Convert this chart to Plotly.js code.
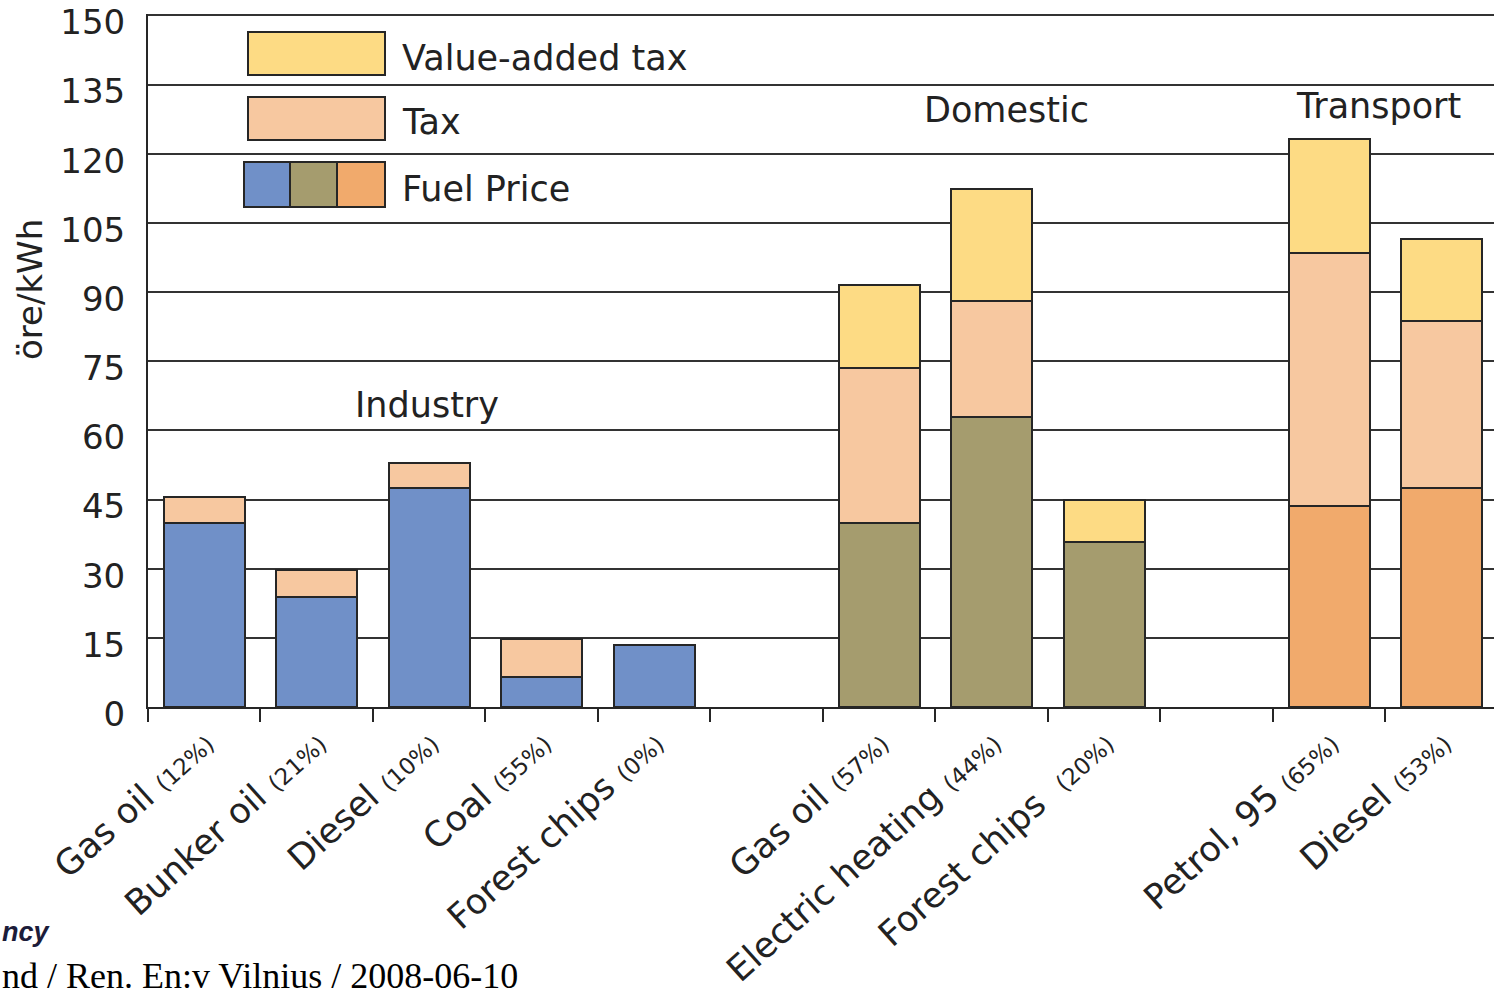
<!DOCTYPE html>
<html>
<head>
<meta charset="utf-8">
<script src="https://cdn.plot.ly/plotly-3.0.1.min.js"></script>
<style>html,body{margin:0;padding:0;background:#fff;}#chart{width:1494px;height:997px;}</style>
</head>
<body>
<div id="chart"></div>
<script>
// ---- data ----
const categories = ["Gas oil (12%)", "Bunker oil (21%)", "Diesel (10%)", "Coal (55%)", "Forest chips (0%)", " ",
                    "Gas oil (57%)", "Electric heating (44%)", "Forest chips (20%)", "  ", "Petrol, 95 (65%)", "Diesel (53%)"];
const labelNames = ["Gas oil", "Bunker oil", "Diesel", "Coal", "Forest chips", "",
                    "Gas oil", "Electric heating", "Forest chips ", "", "Petrol, 95", "Diesel"];
const labelShares = ["12%", "21%", "10%", "55%", "0%", "", "57%", "44%", "20%", "", "65%", "53%"];
const fuelPrice = [39.8, 23.9, 47.5, 6.6, 13.4, null, 40.0, 62.8, 35.7, null, 43.5, 47.6];
const tax       = [5.7, 5.8, 5.4, 8.2, null, null, 33.6, 25.2, null, null, 54.9, 36.2];
const vat       = [null, null, null, null, null, null, 18.0, 24.4, 9.1, null, 24.7, 17.6];
const sectors = ["Industry", "Industry", "Industry", "Industry", "Industry", "", "Domestic", "Domestic", "Domestic", "", "Transport", "Transport"];
const yTicks = [0, 15, 30, 45, 60, 75, 90, 105, 120, 135, 150];

// ---- styles ----
const sectorColor = {Industry: "#7090c8", Domestic: "#a59c6e", Transport: "#f1aa6c", "": "#ffffff"};
const taxColor = "#f7c8a0";
const vatColor = "#fddb84";
const edge = {color: "#262626", width: 2};
const FONT = "DejaVu Sans, Liberation Sans, Arial, sans-serif";

const tickText = labelNames.map((n, i) => n ? n + " <span style='font-size:23px'>(" + labelShares[i] + ")</span>" : "");

const traces = [
  {type: "bar", name: "Fuel Price", x: categories, y: fuelPrice, width: 0.72,
   marker: {color: sectors.map(s => sectorColor[s]), line: edge}, showlegend: false, hoverinfo: "skip"},
  {type: "bar", name: "Tax", x: categories, y: tax, width: 0.72,
   marker: {color: taxColor, line: edge}, showlegend: false, hoverinfo: "skip"},
  {type: "bar", name: "Value-added tax", x: categories, y: vat, width: 0.72,
   marker: {color: vatColor, line: edge}, showlegend: false, hoverinfo: "skip"}
];

// pixel -> paper helpers (plot area: left 148, top 14, width 1346, height 693)
const L = 148, T = 14, W = 1346, H = 693;
const px = x => (x - L) / W;
const py = y => (T + H - y) / H;

const legendBoxes = [
  {x0: 248, x1: 385, y0: 32, y1: 75, c: vatColor},
  {x0: 248, x1: 385, y0: 97, y1: 140, c: taxColor},
  {x0: 244, x1: 290, y0: 162, y1: 207, c: sectorColor.Industry},
  {x0: 290, x1: 337, y0: 162, y1: 207, c: sectorColor.Domestic},
  {x0: 337, x1: 385, y0: 162, y1: 207, c: sectorColor.Transport}
];
const shapes = legendBoxes.map(b => ({type: "rect", xref: "paper", yref: "paper",
  x0: px(b.x0), x1: px(b.x1), y0: py(b.y1), y1: py(b.y0),
  fillcolor: b.c, line: {color: "#262626", width: 2}, layer: "above"}));

const txt = (text, x, y, size, extra) => Object.assign({text: text, xref: "paper", yref: "paper",
  x: px(x), y: py(y), xanchor: "center", yanchor: "middle", showarrow: false,
  font: {family: FONT, size: size, color: "#222"}}, extra || {});

const annotations = [
  txt(traces[2].name, 400, 58, 35, {xanchor: "left"}),
  txt(traces[1].name, 400, 122, 35, {xanchor: "left"}),
  txt(traces[0].name, 400, 189, 35, {xanchor: "left"}),
  txt("Industry", 427, 405, 35),
  txt("Domestic", 1007, 110, 35),
  txt("Transport", 1378, 106, 35),
  txt("öre/kWh", 30, 290, 34, {textangle: -90}),
  txt("<i><b>ncy</b></i>", 0, 932, 27, {xanchor: "left", font: {family: "Liberation Sans, Arial, sans-serif", size: 27, color: "#1c1c3a"}}),
  txt("nd / Ren. En:v Vilnius / 2008-06-10", 0, 976, 36, {xanchor: "left", font: {family: "Liberation Serif, Times New Roman, serif", size: 36, color: "#000"}})
];

const layout = {
  width: 1494, height: 997, autosize: false,
  margin: {l: L, r: 0, t: T, b: 997 - T - H, pad: 0},
  paper_bgcolor: "#fff", plot_bgcolor: "#fff",
  barmode: "stack",
  showlegend: false,
  font: {family: FONT, color: "#222"},
  xaxis: {type: "category", categoryorder: "array", categoryarray: categories,
    range: [-0.5, 11.465], tickson: "boundaries",
    tickvals: categories, ticktext: tickText,
    ticks: "outside", ticklen: 13, tickwidth: 2, tickcolor: "#262626",
    tickangle: -42, tickfont: {family: FONT, size: 35, color: "#222"},
    showline: true, linecolor: "#262626", linewidth: 2, showgrid: false, zeroline: false},
  yaxis: {range: [0, 150.3], tickvals: yTicks, ticks: "",
    tickfont: {family: FONT, size: 34, color: "#222"}, ticklabelstandoff: 14,
    ticklabelshift: 7, ticklabeloverflow: "allow",
    showgrid: true, gridcolor: "#333", gridwidth: 2,
    showline: true, linecolor: "#262626", linewidth: 2, zeroline: false},
  shapes: shapes,
  annotations: annotations
};

Plotly.newPlot("chart", traces, layout, {displayModeBar: false, staticPlot: true});
</script>
</body>
</html>
